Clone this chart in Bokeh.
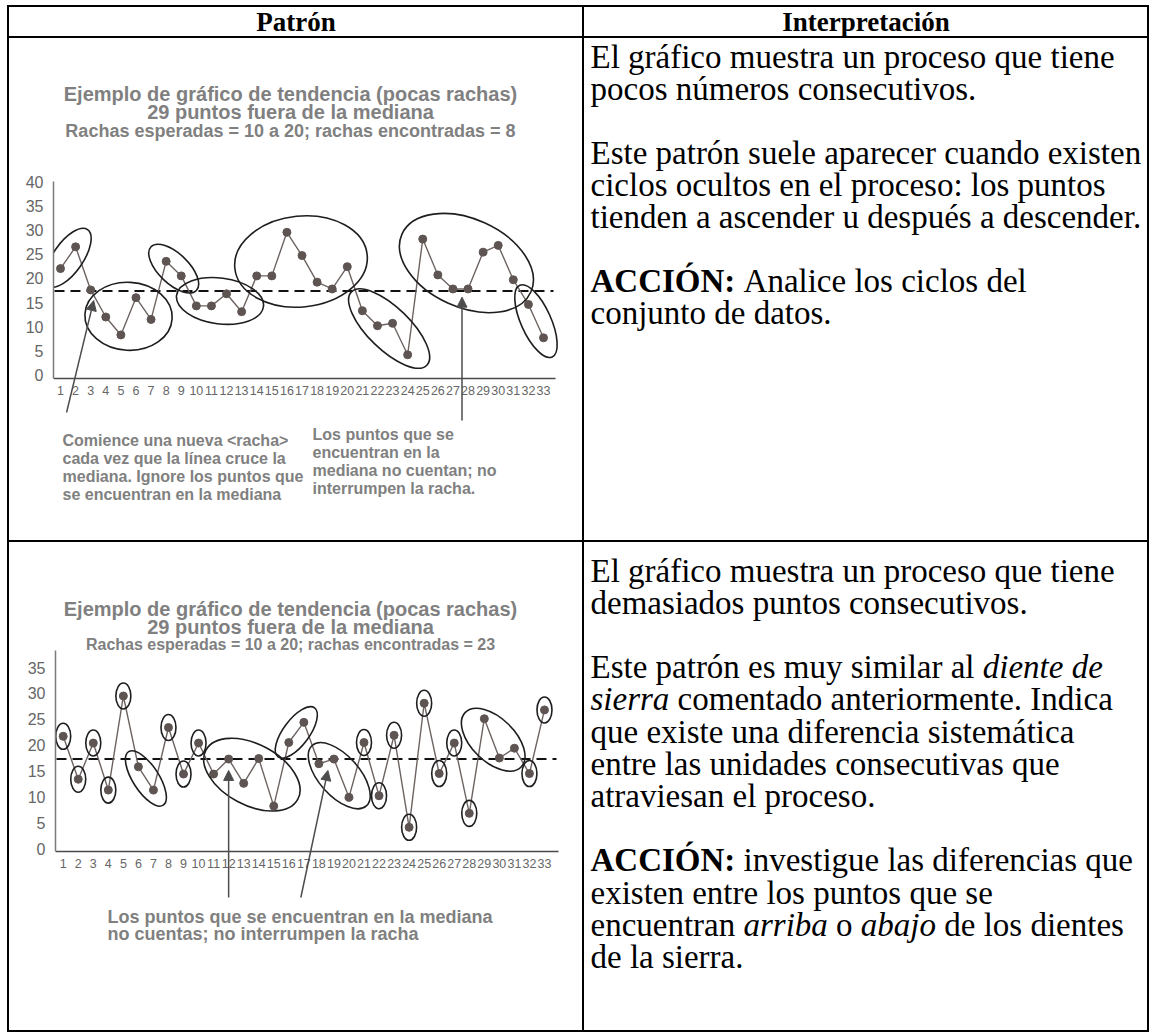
import math
from bokeh.plotting import figure
from bokeh.models import Range1d, FixedTicker, Arrow, NormalHead
from bokeh.layouts import row, column
from bokeh.embed import file_html
from bokeh.resources import INLINE
from bokeh.core.properties import value

# ---------------- data ----------------
x_tick_labels = list(range(1, 34))

points1_x = list(range(1, 34))
points1_y = [22, 26.5, 17.6, 12, 8.3, 16, 11.5, 23.5, 20.5, 14.3, 14.3, 16.8, 13.1, 20.5, 20.5,
             29.5, 24.7, 19.2, 17.8, 22.4, 13.3, 10.2, 10.7, 4.2, 28.1, 20.7, 17.8, 17.8, 25.4,
             26.8, 19.7, 14.6, 7.7]
median1 = 17.4
y_ticks1 = [0, 5, 10, 15, 20, 25, 30, 35, 40]
runs1 = [(1, 2), (4, 7), (8, 9), (10, 13), (14, 20), (21, 24), (25, 31), (32, 33)]
arrow_targets1 = [3, 27.5]

points2_x = list(range(1, 34))
points2_y = [21.7, 13.4, 20.4, 11.3, 29.5, 15.8, 11.3, 23.4, 14.4, 20.4, 14.4, 17.3, 12.6, 17.4, 8.2,
             20.5, 24.4, 16.4, 17.3, 9.9, 20.5, 10.2, 21.9, 4.1, 28.1, 14.5, 20.4, 6.8, 25.1,
             17.5, 19.4, 14.5, 26.8]
median2 = 17.3
y_ticks2 = [0, 5, 10, 15, 20, 25, 30, 35]
runs2 = [(1, 1), (2, 2), (3, 3), (4, 4), (5, 5), (6, 7), (8, 8), (9, 9), (10, 10), (11, 15),
         (16, 17), (18, 20), (21, 21), (22, 22), (23, 23), (24, 24), (25, 25), (26, 26),
         (27, 27), (28, 28), (29, 31), (32, 32), (33, 33)]
arrow_targets2 = [12, 18.6]

header_left = "Patrón"
header_right = "Interpretación"

title1 = ["Ejemplo de gráfico de tendencia (pocas rachas)",
          "29 puntos fuera de la mediana",
          "Rachas esperadas = 10 a 20; rachas encontradas = 8"]
notes1_left = ["Comience una nueva <racha>", "cada vez que la línea cruce la",
               "mediana. Ignore los puntos que", "se encuentran en la mediana"]
notes1_right = ["Los puntos que se", "encuentran en la", "mediana no cuentan; no",
                "interrumpen la racha."]
title2 = ["Ejemplo de gráfico de tendencia (pocas rachas)",
          "29 puntos fuera de la mediana",
          "Rachas esperadas = 10 a 20; rachas encontradas = 23"]
notes2 = ["Los puntos que se encuentran en la mediana",
          "no cuentas; no interrumpen la racha"]

text1 = [
    [("El gráfico muestra un proceso que tiene", "n")],
    [("pocos números consecutivos.", "n")],
    None,
    [("Este patrón suele aparecer cuando existen", "n")],
    [("ciclos ocultos en el proceso: los puntos", "n")],
    [("tienden a ascender u después a descender.", "n")],
    None,
    [("ACCIÓN:", "b"), (" Analice los ciclos del", "n")],
    [("conjunto de datos.", "n")],
]
text2 = [
    [("El gráfico muestra un proceso que tiene", "n")],
    [("demasiados puntos consecutivos.", "n")],
    None,
    [("Este patrón es muy similar al ", "n"), ("diente de", "i")],
    [("sierra", "i"), (" comentado anteriormente. Indica", "n")],
    [("que existe una diferencia sistemática", "n")],
    [("entre las unidades consecutivas que", "n")],
    [("atraviesan el proceso.", "n")],
    None,
    [("ACCIÓN:", "b"), (" investigue las diferencias que", "n")],
    [("existen entre los puntos que se", "n")],
    [("encuentran ", "n"), ("arriba", "i"), (" o ", "n"), ("abajo", "i"), (" de los dientes", "n")],
    [("de la sierra.", "n")],
]

# ---------------- styling / geometry ----------------
GRAY = "#808080"
LINE_C = "#6d6461"
DOT_C = "#5e5553"
SERIF = "Liberation Serif"
SANS = "Liberation Sans"
BODY = 33

LW, RW = 573, 563
H0, H1, H2 = 29, 502, 488

# Times metrics (per 1000 em) for mixed-style line layout
TR = dict(zip("abcdefghijklmnopqrstuvwxyz", [444, 500, 444, 500, 444, 333, 500, 500, 278, 278, 500, 278, 778,
                                             500, 500, 500, 500, 333, 389, 278, 500, 500, 722, 500, 500, 444]))
TR.update({" ": 250, ".": 250, ",": 250, ":": 278, ";": 278, "á": 444, "é": 444, "í": 278, "ó": 500,
           "ú": 500, "A": 722, "C": 667, "E": 611, "I": 333, "N": 722, "O": 722, "Ó": 722})
TB = dict(TR)
TB.update({"A": 722, "C": 722, "I": 389, "Ó": 778, "N": 722, ":": 333})
TI = dict(TR)
TI.update({"a": 500, "r": 389, "e": 444})
TABLES = {"n": TR, "b": TB, "i": TI}
STYLE = {"n": "normal", "b": "bold", "i": "italic"}


def tw(s, st, size):
    t = TABLES[st]
    return sum(t.get(ch, 500) for ch in s) / 1000.0 * size


def base_fig(**kw):
    p = figure(output_backend="svg", toolbar_location=None, frame_align=False,
               styles={"background-color": "white"}, **kw)
    p.background_fill_color = None
    p.border_fill_color = None
    p.outline_line_color = None
    p.grid.visible = False
    return p


def blank(w, h):
    return base_fig(width=w, height=h, x_range=Range1d(0, w), y_range=Range1d(h, 0),
                    min_border=0, x_axis_location=None, y_axis_location=None)


def header_cell(w, txt):
    p = blank(w, H0)
    p.text(x=[w / 2], y=[14], text=[txt], text_font=value(SERIF), text_font_size="27px",
           text_font_style="bold", text_align="center", text_baseline="middle", text_color="black")
    return p


def text_cell(w, h, lines, y0, step, x0=6, size=BODY):
    p = blank(w, h)
    for k, segs in enumerate(lines):
        if segs is None:
            continue
        yc = y0 + k * step
        x = x0
        for txt, st in segs:
            lead = len(txt) - len(txt.lstrip(" "))
            xs = x + lead * tw(" ", st, size)
            p.text(x=[xs], y=[yc], text=[txt.strip()], text_font=value(SERIF),
                   text_font_size=f"{size}px", text_font_style=STYLE[st],
                   text_align="left", text_baseline="middle", text_color="black")
            x += tw(txt, st, size)
    return p


def run_ellipses(xs, ys, runs, sx, sy, padU, padV, sw, sh):
    ex, ey, ew, eh, ea = [], [], [], [], []
    for s, e in runs:
        px = [xs[i - 1] * sx for i in range(s, e + 1)]
        py = [ys[i - 1] * sy for i in range(s, e + 1)]
        if s == e:
            ex.append(xs[s - 1]); ey.append(ys[s - 1]); ew.append(sw); eh.append(sh); ea.append(0)
            continue
        ang = math.atan2(py[-1] - py[0], px[-1] - px[0])
        c, sn = math.cos(ang), math.sin(ang)
        us = [X * c + Y * sn for X, Y in zip(px, py)]
        vs = [-X * sn + Y * c for X, Y in zip(px, py)]
        uc = (min(us) + max(us)) / 2
        vc = (min(vs) + max(vs)) / 2
        ex.append((uc * c - vc * sn) / sx)
        ey.append((uc * sn + vc * c) / sy)
        ew.append(max(us) - min(us) + padU)
        eh.append(max(vs) - min(vs) + padV)
        ea.append(ang)
    return dict(x=ex, y=ey, width=ew, height=eh, angle=ea)


def chart_cell(W, H, ml, mb, sx, sy, x1_px, y0_px, xaxis_end_px, xaxis_px, yaxis_top_px,
               xs, ys, yticks, median, runs, pads, arrows, texts):
    """One figure filling the whole cell; positions given in cell pixels (y down)."""
    fw, fh = W - ml, H - mb
    x_start = 1 - (x1_px - ml) / sx
    x_end = x_start + fw / sx
    y_end = y0_px / sy
    y_start = y_end - fh / sy

    def X(cx):
        return x_start + (cx - ml) / sx

    def Y(cy):
        return y_end - cy / sy

    p = base_fig(width=W, height=H, x_range=Range1d(x_start, x_end), y_range=Range1d(y_start, y_end),
                 min_border_left=ml, min_border_right=0, min_border_top=0, min_border_bottom=mb)
    ax_y = Y(xaxis_px)
    p.xaxis.fixed_location = ax_y
    p.xaxis.bounds = (x_start, X(xaxis_end_px))
    p.yaxis.bounds = (ax_y, Y(yaxis_top_px))
    p.xaxis.ticker = FixedTicker(ticks=x_tick_labels)
    p.yaxis.ticker = FixedTicker(ticks=yticks)
    for ax in (p.xaxis, p.yaxis):
        ax.major_tick_line_color = None
        ax.minor_tick_line_color = None
        ax.axis_line_width = 1.5
        ax.major_label_text_font = "Liberation Sans Narrow, Liberation Sans"
        ax.major_label_text_color = "#666666"
    p.xaxis.axis_line_color = "#4a4a4a"
    p.yaxis.axis_line_color = "#7a7a7a"
    p.xaxis.major_label_text_font_size = "12.5px"
    p.yaxis.major_label_text_font_size = "16px"
    p.xaxis.major_label_standoff = 1
    p.yaxis.major_label_standoff = 4

    p.segment(x0=[X(ml + 1)], y0=[median], x1=[X(xaxis_end_px - 2)], y1=[median],
              line_color="#111111", line_width=2, line_dash="10 6")
    p.line(xs, ys, line_color=LINE_C, line_width=1.4)
    p.scatter(xs, ys, size=8, fill_color=DOT_C, line_color=DOT_C)

    el = run_ellipses(xs, ys, runs, sx, sy, *pads)
    p.ellipse(x=el["x"], y=el["y"], width=el["width"], height=el["height"], angle=el["angle"],
              width_units="screen", height_units="screen", fill_color=None,
              line_color="#1e1e1e", line_width=1.6)

    for (hx, hy, tx, ty) in arrows:
        p.add_layout(Arrow(end=NormalHead(size=10, fill_color="#4d4d4d", line_color="#4d4d4d"),
                           x_start=tx, y_start=Y(ty), x_end=hx, y_end=hy,
                           line_color="#4d4d4d", line_width=1.5))

    for (cx, cy, txt, size, align) in texts:
        p.text(x=[X(cx)], y=[Y(cy)], text=[txt], text_font=value(SANS), text_font_size=size,
               text_font_style="bold", text_align=align, text_baseline="middle", text_color=GRAY)
    return p


# ----- chart 1 cell (origin page 9,38) -----
texts1 = [(281, 55 + 18.5 * k, t, s, "center") for k, (t, s) in enumerate(zip(title1, ["20px", "20px", "18px"]))]
texts1 += [(53, 402 + 18 * k, t, "16px", "left") for k, t in enumerate(notes1_left)]
texts1 += [(303, 396 + 18 * k, t, "16px", "left") for k, t in enumerate(notes1_right)]
arrows1 = [(arrow_targets1[0] + 0.2, median1 - 2.0, arrow_targets1[0] - 1.6, 374),
           (arrow_targets1[1] + 0.1, median1 - 1.3, arrow_targets1[1] + 0.1, 382)]
c1 = chart_cell(LW, H1, 44, 30, 15.094, 4.84, 51, 336.6, 546, 340, 143,
                points1_x, points1_y, y_ticks1, median1, runs1, (42, 30, 20, 28), arrows1, texts1)

# ----- chart 2 cell (origin page 9,542) -----
texts2 = [(281, 66 + 18 * k, t, s, "center") for k, (t, s) in enumerate(zip(title2, ["20px", "20px", "16px"]))]
texts2 += [(98, 374 + 17 * k, t, "18px", "left") for k, t in enumerate(notes2)]
arrows2 = [(arrow_targets2[0], median2 - 2.2, arrow_targets2[0], 355),
           (arrow_targets2[1], median2 - 2.2, arrow_targets2[1] - 1.8, 355)]
c2 = chart_cell(LW, H2, 46, 30, 15.04, 5.17, 53.7, 306, 549, 309, 108,
                points2_x, points2_y, y_ticks2, median2, runs2, (36, 26, 15, 26), arrows2, texts2)

t1 = text_cell(RW, H1, text1, 18, 32)
t2 = text_cell(RW, H2, text2, 28, 32.2)

hdr = row(header_cell(LW, header_left), header_cell(RW, header_right), spacing=2)
r1 = row(c1, t1, spacing=2)
r2 = row(c2, t2, spacing=2)
page = column(hdr, r1, r2, spacing=2, margin=(5, 0, 0, 7),
              styles={"background-color": "black", "padding": "2px"})

open("out.html", "w").write(file_html(page, INLINE))
